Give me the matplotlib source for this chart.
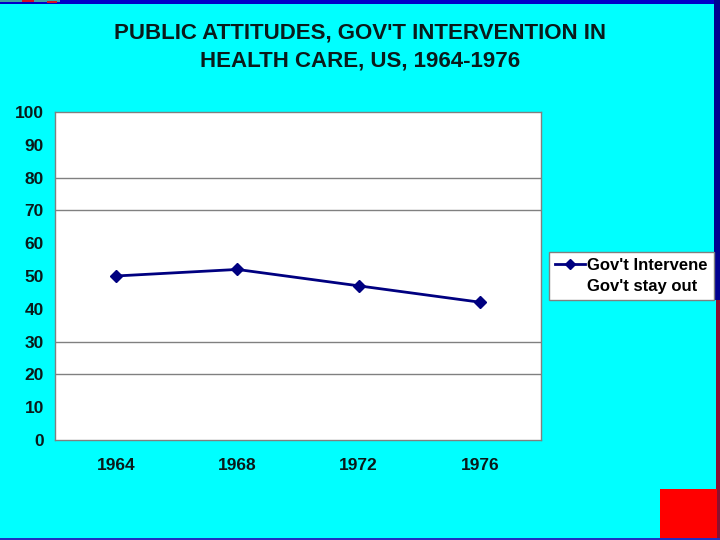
import matplotlib
matplotlib.use("Agg")
import matplotlib.pyplot as plt
from matplotlib.patches import Rectangle
from matplotlib.lines import Line2D

years = ["1964", "1968", "1972", "1976"]
gov_intervene = [50, 52, 47, 42]
gov_stay_out = []
y_ticks = [0, 10, 20, 30, 40, 50, 60, 70, 80, 90, 100]
visible_grid = [20, 30, 70, 80]

plt.rcParams['font.family'] = ['Liberation Sans', 'DejaVu Sans']

BG = '#00FFFF'
fig = plt.figure(figsize=(7.2, 5.4), dpi=100, facecolor=BG)

# decorative frame pieces
fig.patches.append(Rectangle((0, 1 - 4/540), 1, 4/540, transform=fig.transFigure,
                             facecolor='#0000C8', edgecolor='none', zorder=0))
fig.patches.append(Rectangle((0, 1 - 2/540), 60/720, 2/540, transform=fig.transFigure,
                             facecolor='#40A0A0', edgecolor='none', zorder=1))
fig.patches.append(Rectangle((22/720, 1 - 2/540), 12/720, 2/540, transform=fig.transFigure,
                             facecolor='#D01020', edgecolor='none', zorder=1))
fig.patches.append(Rectangle((47/720, 1 - 3/540), 10/720, 2/540, transform=fig.transFigure,
                             facecolor='#D01020', edgecolor='none', zorder=1))
fig.patches.append(Rectangle((714/720, 240/540), 6/720, 300/540, transform=fig.transFigure,
                             facecolor='#000090', edgecolor='none', zorder=0))
fig.patches.append(Rectangle((716/720, 0), 4/720, 240/540, transform=fig.transFigure,
                             facecolor='#8B1030', edgecolor='none', zorder=0))
fig.patches.append(Rectangle((660/720, 0), 57/720, 51/540, transform=fig.transFigure,
                             facecolor='#FF0000', edgecolor='none', zorder=0))
fig.patches.append(Rectangle((0, 0), 1, 2/540, transform=fig.transFigure,
                             facecolor='#2030C0', edgecolor='none', zorder=0))

ax = fig.add_axes([55/720, 1 - 440/540, (541 - 55)/720, (440 - 112)/540])
ax.set_facecolor('white')

x = list(range(len(years)))
ax.plot(x, gov_intervene, color='#000080', linewidth=2, marker='D', markersize=6,
        label="Gov't Intervene", zorder=3)
ax.plot(gov_stay_out, gov_stay_out, linestyle='none', label="Gov't stay out")

for g in visible_grid:
    ax.axhline(g, color='#808080', linewidth=1, zorder=1)

ax.set_xlim(-0.5, 3.5)
ax.set_ylim(0, 100)
ax.set_xticks(x)
ax.set_xticklabels(years, fontsize=12.5, fontweight='bold', color='#0a1a1a')
ax.set_yticks(y_ticks)
ax.set_yticklabels([str(v) for v in y_ticks], fontsize=12.5, fontweight='bold', color='#0a1a1a')
ax.tick_params(axis='x', length=0, pad=13)
ax.tick_params(axis='y', length=0, pad=8)

for side in ['top', 'right', 'left', 'bottom']:
    ax.spines[side].set_color('#808080')
    ax.spines[side].set_linewidth(1)

fig.text(360/720, 1 - 33/540, "PUBLIC ATTITUDES, GOV'T INTERVENTION IN",
         ha='center', va='center', fontsize=16, fontweight='bold', color='#0a1a1a')
fig.text(360/720, 1 - 61/540, "HEALTH CARE, US, 1964-1976",
         ha='center', va='center', fontsize=16, fontweight='bold', color='#0a1a1a')

handles = [Line2D([0], [0], color='#000080', linewidth=2, marker='D', markersize=5),
           Line2D([0], [0], linestyle='none')]
leg = fig.legend(handles, ["Gov't Intervene", "Gov't stay out"],
                 loc='upper left', bbox_to_anchor=(549/720, 1 - 252/540),
                 prop={'weight': 'bold', 'size': 12}, frameon=True, fancybox=False,
                 framealpha=1, handlelength=1.8, handletextpad=0.15, borderpad=0.35,
                 labelspacing=0.4, borderaxespad=0)
leg.get_frame().set_edgecolor('#808080')
leg.get_frame().set_facecolor('white')
leg.get_frame().set_linewidth(1)

fig.savefig('out.png', dpi=100, facecolor=BG)
